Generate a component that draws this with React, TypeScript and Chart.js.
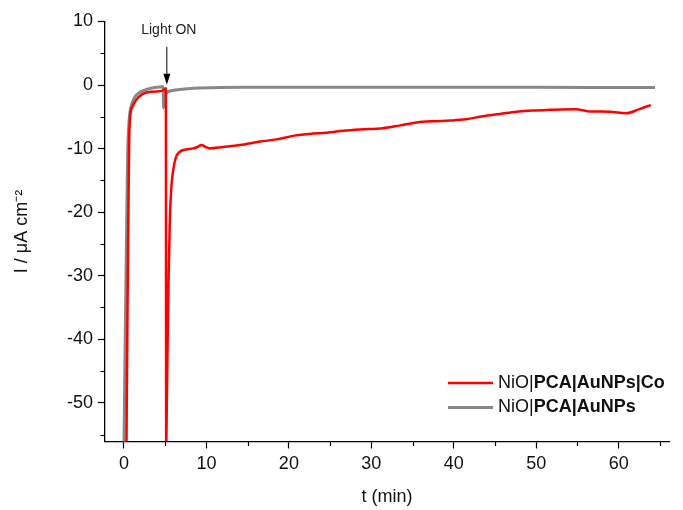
import { useEffect, useRef } from "react";
import { Chart, registerables } from "chart.js";

Chart.register(...registerables);

// ---- data (time in min, current density in µA cm^-2) ----
const CO_T = [0.3, 0.4, 0.5, 0.58, 0.63, 0.75, 1.0, 1.45, 2.3, 3.5, 4.8, 5.08, 5.12, 5.2, 5.3, 5.42, 5.57, 5.75, 5.97, 6.3, 6.78, 7.5, 8.4, 8.9, 9.4, 9.9, 10.4, 12.0, 14.05, 16.5, 18.5, 20.5, 22.5, 24.6, 26.6, 28.6, 31.4, 33.5, 35.5, 37.5, 39.5, 41.5, 43.5, 45.6, 47.6, 49.6, 51.6, 54.8, 56.4, 58.9, 60.9, 62.5, 63.9];
const CO_I = [-57, -40, -25, -15, -9, -5, -3.5, -2.4, -1.4, -1.05, -0.85, -0.5, -57, -50, -40, -30, -21, -16, -13.4, -11.4, -10.5, -10.15, -9.97, -9.75, -9.45, -9.75, -9.97, -9.75, -9.45, -8.9, -8.55, -8.0, -7.7, -7.5, -7.2, -7.0, -6.8, -6.35, -5.9, -5.7, -5.6, -5.4, -4.9, -4.55, -4.2, -4.0, -3.9, -3.8, -4.15, -4.2, -4.45, -3.8, -3.15];

const AU_T = [0.0, 0.15, 0.3, 0.4, 0.48, 0.55, 0.7, 1.0, 1.33, 1.8, 2.34, 3.3, 4.57, 4.75, 4.8, 4.9, 5.05, 5.3, 5.7, 6.8, 8.5, 11.6, 15, 20, 30, 40, 50, 60, 64.4];
const AU_I = [-57, -40, -25, -15, -9, -7.1, -4.5, -2.8, -1.84, -1.25, -0.9, -0.5, -0.27, -0.25, -3.6, -2.2, -1.5, -1.1, -0.9, -0.7, -0.5, -0.38, -0.36, -0.35, -0.34, -0.35, -0.36, -0.37, -0.37];

const SERIES_NAMES = ["NiO|PCA|AuNPs|Co", "NiO|PCA|AuNPs"];
const SERIES_PLAIN = ["NiO|", "NiO|"];
const SERIES_BOLD = ["PCA|AuNPs|Co", "PCA|AuNPs"];
const SERIES_COLORS = ["#ff0000", "#888888"];

const X_TICKS = [0, 10, 20, 30, 40, 50, 60];
const X_MINOR = [5, 15, 25, 35, 45, 55, 65];
const Y_TICKS = [10, 0, -10, -20, -30, -40, -50];
const Y_MINOR = [5, -5, -15, -25, -35, -45, -55];

const LIGHT_ON_TEXT = "Light ON";
const LIGHT_ON_T = 5.2;
const LIGHT_ON_FROM = 6.0;
const LIGHT_ON_TO = 0.05;
const LIGHT_ON_LABEL_I = 8.6;

const FONT = "'Liberation Sans', Arial, sans-serif";

const toPoints = (xs: number[], ys: number[]) => xs.map((x, i) => ({ x, y: ys[i] }));

const extrasPlugin = {
  id: "extras",
  afterDraw(chart: any) {
    const { ctx, chartArea, scales } = chart;
    const xs = scales.x;
    const ys = scales.y;
    ctx.save();
    ctx.strokeStyle = "#000";
    ctx.lineWidth = 1.2;
    // minor ticks
    ctx.beginPath();
    for (const v of X_MINOR) {
      const px = Math.round(xs.getPixelForValue(v)) + 0.5;
      ctx.moveTo(px, chartArea.bottom);
      ctx.lineTo(px, chartArea.bottom + 4.5);
    }
    for (const v of Y_MINOR) {
      const py = Math.round(ys.getPixelForValue(v)) + 0.5;
      ctx.moveTo(chartArea.left, py);
      ctx.lineTo(chartArea.left - 4.5, py);
    }
    ctx.stroke();

    // Light ON arrow
    const ax = xs.getPixelForValue(LIGHT_ON_T);
    const ay0 = ys.getPixelForValue(LIGHT_ON_FROM);
    const ay1 = ys.getPixelForValue(LIGHT_ON_TO);
    ctx.lineWidth = 1;
    ctx.beginPath();
    ctx.moveTo(ax, ay0);
    ctx.lineTo(ax, ay1 - 8);
    ctx.stroke();
    ctx.fillStyle = "#000";
    ctx.beginPath();
    ctx.moveTo(ax, ay1);
    ctx.lineTo(ax - 3.5, ay1 - 11);
    ctx.lineTo(ax + 3.5, ay1 - 11);
    ctx.closePath();
    ctx.fill();
    ctx.font = `14px ${FONT}`;
    ctx.textAlign = "center";
    ctx.textBaseline = "middle";
    ctx.fillStyle = "#222";
    ctx.fillText(LIGHT_ON_TEXT, ax + 2, ys.getPixelForValue(LIGHT_ON_LABEL_I));

    // legend with mixed weights
    const lx0 = chartArea.right - 221;
    const lx1 = chartArea.right - 176;
    const tx = chartArea.right - 171;
    const rowY = [chartArea.bottom - 58.5, chartArea.bottom - 34];
    ctx.textAlign = "left";
    for (let i = 0; i < SERIES_NAMES.length; i++) {
      ctx.strokeStyle = SERIES_COLORS[i];
      ctx.lineWidth = i === 0 ? 2.5 : 3;
      ctx.beginPath();
      ctx.moveTo(lx0, rowY[i]);
      ctx.lineTo(lx1, rowY[i]);
      ctx.stroke();
      ctx.fillStyle = "#111";
      ctx.font = `18px ${FONT}`;
      ctx.fillText(SERIES_PLAIN[i], tx, rowY[i]);
      const w = ctx.measureText(SERIES_PLAIN[i]).width;
      ctx.font = `bold 18px ${FONT}`;
      ctx.fillText(SERIES_BOLD[i], tx + w, rowY[i]);
    }
    ctx.restore();
  },
};

export default function App() {
  const ref = useRef<HTMLCanvasElement | null>(null);

  useEffect(() => {
    if (!ref.current) return;
    const chart = new Chart(ref.current, {
      type: "line",
      data: {
        datasets: [
          {
            label: SERIES_NAMES[0],
            data: toPoints(CO_T, CO_I),
            borderColor: SERIES_COLORS[0],
            backgroundColor: SERIES_COLORS[0],
            borderWidth: 2.5,
            pointRadius: 0,
            cubicInterpolationMode: "monotone",
            clip: 0,
          },
          {
            label: SERIES_NAMES[1],
            data: toPoints(AU_T, AU_I),
            borderColor: SERIES_COLORS[1],
            backgroundColor: SERIES_COLORS[1],
            borderWidth: 3,
            pointRadius: 0,
            cubicInterpolationMode: "monotone",
            clip: 0,
          },
        ],
      },
      options: {
        animation: false,
        responsive: false,
        devicePixelRatio: 1,
        layout: { padding: { left: 0, right: 14, top: 21.5, bottom: 0 } },
        plugins: { legend: { display: false }, tooltip: { enabled: false } },
        scales: {
          x: {
            type: "linear",
            min: -2.3,
            max: 66.1,
            afterBuildTicks: (s: any) => {
              s.ticks = X_TICKS.map((v) => ({ value: v }));
            },
            afterFit: (s: any) => {
              s.height = 68.5;
            },
            ticks: {
              autoSkip: false,
              maxRotation: 0,
              padding: 5,
              color: "#111",
              font: { family: FONT, size: 18 },
            },
            grid: {
              drawOnChartArea: false,
              drawTicks: true,
              tickLength: 7,
              tickColor: "#000",
              tickWidth: 1.2,
            },
            border: { display: true, color: "#000", width: 1.3 },
            title: {
              display: true,
              text: "t (min)",
              color: "#111",
              font: { family: FONT, size: 18 },
              padding: { top: 0, bottom: 2 },
            },
          },
          y: {
            type: "linear",
            min: -56.1,
            max: 10,
            afterBuildTicks: (s: any) => {
              s.ticks = Y_TICKS.map((v) => ({ value: v }));
            },
            afterFit: (s: any) => {
              s.width = 105;
            },
            ticks: {
              autoSkip: false,
              padding: 5,
              color: "#111",
              font: { family: FONT, size: 18 },
            },
            grid: {
              drawOnChartArea: false,
              drawTicks: true,
              tickLength: 7,
              tickColor: "#000",
              tickWidth: 1.2,
            },
            border: { display: true, color: "#000", width: 1.3 },
            title: {
              display: true,
              text: "I / μA cm⁻²",
              color: "#111",
              font: { family: FONT, size: 18 },
              padding: { top: 11, bottom: 0 },
            },
          },
        },
      },
      plugins: [extrasPlugin],
    });
    return () => chart.destroy();
  }, []);

  return (
    <div style={{ position: "absolute", left: 0, top: 0, width: 683, height: 510, background: "#fff" }}>
      <canvas ref={ref} width={683} height={510} />
    </div>
  );
}
